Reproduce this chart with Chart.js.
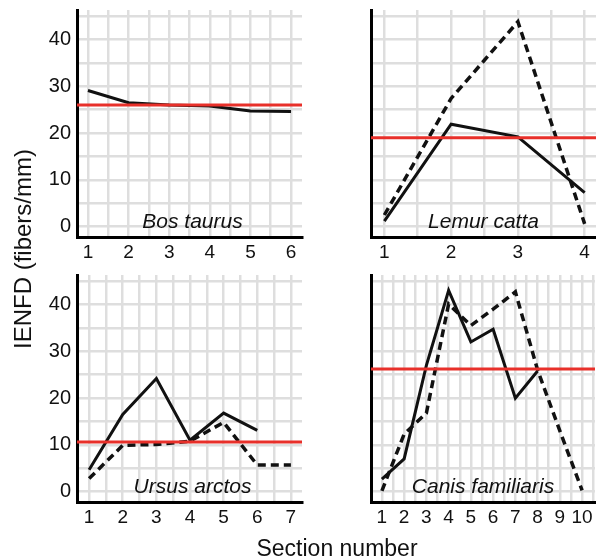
<!DOCTYPE html>
<html>
<head>
<meta charset="utf-8">
<script src="https://cdn.jsdelivr.net/npm/chart.js@4.4.1/dist/chart.umd.min.js"></script>
<style>
  body { margin: 0; background: #fff; width: 596px; height: 558px; position: relative; overflow: hidden;
         font-family: "Liberation Sans", Arial, sans-serif; color: #111; }
  canvas { position: absolute; }
  .ytitle { position: absolute; left: 23px; top: 249px; transform: translate(-50%, -50%) rotate(-90deg);
            font-size: 24px; white-space: nowrap; }
  .xtitle { position: absolute; left: 337px; top: 548px; transform: translate(-50%, -50%);
            font-size: 23px; white-space: nowrap; }
</style>
</head>
<body>
<canvas id="bos" width="310" height="265" style="left:0;top:0"></canvas>
<canvas id="lemur" width="296" height="265" style="left:300px;top:0"></canvas>
<canvas id="ursus" width="310" height="293" style="left:0;top:265px"></canvas>
<canvas id="canis" width="296" height="293" style="left:300px;top:265px"></canvas>
<div class="ytitle">IENFD (fibers/mm)</div>
<div class="xtitle">Section number</div>
<script>
// values, fibers/mm per section
const bosSections = [1, 2, 3, 4, 5, 6];
const bosSolid = [29.1, 26.5, 26.0, 25.8, 24.7, 24.6];
const bosMean = 26.0;

const lemurSections = [1, 2, 3, 4];
const lemurSolid = [1.2, 21.9, 19.2, 7.3];
const lemurDashed = [2.5, 27.4, 43.8, 0.6];
const lemurMean = 19.0;

const ursusSections = [1, 2, 3, 4, 5, 6, 7];
const ursusSolid = [4.7, 16.5, 24.2, 11.0, 16.8, 13.1, null];
const ursusDashed = [2.8, 9.9, 10.1, 10.8, 14.8, 5.7, 5.7];
const ursusMean = 10.6;

const canisSections = [1, 2, 3, 4, 5, 6, 7, 8, 9, 10];
const canisSolid = [2.7, 7.0, 27.0, 43.0, 32.0, 34.7, 20.0, 25.8, null, null];
const canisDashed = [0.2, 12.3, 16.8, 40.1, 35.5, 39.0, 42.7, 26.0, 13.0, 0.3];
const canisMean = 26.2;

const yTickValues = [0, 5, 10, 15, 20, 25, 30, 35, 40, 45];

const FONT = '"Liberation Sans", Arial, sans-serif';
const RED = '#e8302a';
const GRID = '#dedede';

// species name written inside the plot, near the bottom
const speciesLabel = {
  id: 'speciesLabel',
  afterDatasetsDraw(chart, args, opts) {
    const { ctx, chartArea } = chart;
    ctx.save();
    ctx.font = 'italic 21px ' + FONT;
    ctx.fillStyle = '#111';
    ctx.textAlign = 'center';
    ctx.textBaseline = 'alphabetic';
    ctx.fillText(opts.text, (chartArea.left + chartArea.right) / 2 + (opts.dx || 0), chartArea.bottom - 9);
    ctx.restore();
  }
};

function toPoints(xs, ys) {
  return xs.map((x, i) => ({ x: x, y: ys[i] })).filter(p => p.y !== null && p.y !== undefined);
}

function makePanel(id, o) {
  const xGrid = [];
  for (let v = 1; v <= o.xMax + 1e-9; v += 0.5) xGrid.push(v);

  const datasets = [
    {
      data: [{ x: o.xMin, y: o.mean }, { x: o.xMax, y: o.mean }],
      borderColor: RED,
      borderWidth: 3,
    },
    {
      data: toPoints(o.sections, o.solid),
      borderColor: '#111',
      borderWidth: 3,
    },
  ];
  if (o.dashed) {
    datasets.push({
      data: toPoints(o.sections, o.dashed),
      borderColor: '#111',
      borderWidth: 3.5,
      borderDash: [8, 5],
    });
  }

  return new Chart(document.getElementById(id), {
    type: 'line',
    data: { datasets: datasets },
    options: {
      responsive: false,
      animation: false,
      events: [],
      layout: { padding: { top: 10, right: o.padRight, left: 0, bottom: 0 } },
      elements: {
        point: { radius: 0 },
        line: { tension: 0, fill: false, borderJoinStyle: 'miter', borderCapStyle: 'butt' },
      },
      plugins: {
        legend: { display: false },
        tooltip: { enabled: false },
        speciesLabel: { text: o.species, dx: o.labelDx || 0 },
      },
      scales: {
        x: {
          type: 'linear',
          min: o.xMin,
          max: o.xMax,
          afterFit: (axis) => {
            axis.height = o.xAxisHeight;
            axis.paddingLeft = 0;
            axis.paddingRight = 0;
          },
          afterBuildTicks: (axis) => { axis.ticks = xGrid.map(v => ({ value: v })); },
          grid: { color: GRID, lineWidth: 2.5, drawTicks: false },
          border: { color: '#000', width: 3 },
          ticks: {
            autoSkip: false,
            maxRotation: 0,
            padding: 4,
            color: '#111',
            font: { family: FONT, size: 19 },
            callback: (v) => (Number.isInteger(v) ? String(v) : ''),
          },
        },
        y: {
          type: 'linear',
          min: -2.2,
          max: 46.3,
          afterFit: (axis) => {
            axis.width = o.yAxisWidth;
            axis.paddingTop = 0;
            axis.paddingBottom = 0;
          },
          afterBuildTicks: (axis) => { axis.ticks = yTickValues.map(v => ({ value: v })); },
          grid: { color: GRID, lineWidth: 2.5, drawTicks: false },
          border: { color: '#000', width: 3 },
          ticks: {
            display: o.showY,
            autoSkip: false,
            padding: 6,
            color: '#111',
            font: { family: FONT, size: 20 },
            callback: (v) => (v % 10 === 0 ? String(v) : ''),
          },
        },
      },
    },
    plugins: [speciesLabel],
  });
}

makePanel('bos', {
  sections: bosSections, solid: bosSolid, dashed: null, mean: bosMean,
  xMin: 0.73, xMax: 6.27, species: 'Bos taurus', showY: true,
  yAxisWidth: 77, xAxisHeight: 28, padRight: 8, labelDx: 3,
});
makePanel('lemur', {
  sections: lemurSections, solid: lemurSolid, dashed: lemurDashed, mean: lemurMean,
  xMin: 0.8, xMax: 4.17, species: 'Lemur catta', showY: false,
  yAxisWidth: 71, xAxisHeight: 28, padRight: 0,
});
makePanel('ursus', {
  sections: ursusSections, solid: ursusSolid, dashed: ursusDashed, mean: ursusMean,
  xMin: 0.64, xMax: 7.33, species: 'Ursus arctos', showY: true,
  yAxisWidth: 77, xAxisHeight: 56, padRight: 8, labelDx: 3,
});
makePanel('canis', {
  sections: canisSections, solid: canisSolid, dashed: canisDashed, mean: canisMean,
  xMin: 0.51, xMax: 10.58, species: 'Canis familiaris', showY: false,
  yAxisWidth: 71, xAxisHeight: 56, padRight: 1,
});
</script>
</body>
</html>
